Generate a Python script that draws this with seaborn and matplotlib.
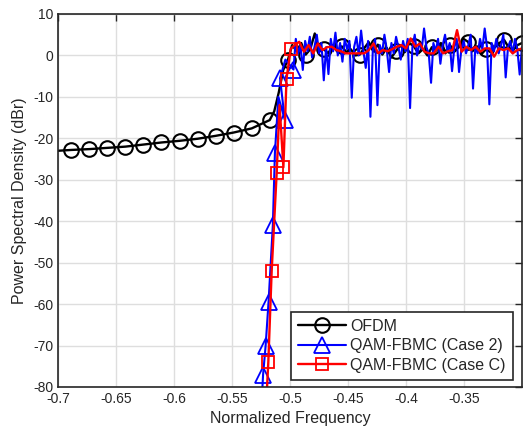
import numpy as np
import pandas as pd
import matplotlib
matplotlib.use("Agg")
import matplotlib.pyplot as plt
import seaborn as sns

# ---------------- data ----------------
# OFDM: sparse out-of-band part, then dense in-band part
ofdm_left_f = [-0.7000, -0.6885, -0.6730, -0.6574, -0.6419, -0.6263, -0.6108,
               -0.5952, -0.5797, -0.5641, -0.5486, -0.5330]
ofdm_left_p = [-23.0, -22.8, -22.6, -22.3, -22.0, -21.5, -21.0,
               -20.6, -20.1, -19.4, -18.6, -17.6]
ofdm_band_f = np.linspace(-0.5175, -0.3000, 57)
ofdm_band_p = [-15.6, -13.5, -9.0, -3.5, -1.2, 2.5, 1.0, 3.0, 0.2, 1.5,
               5.3, 1.0, 1.5, 0.5, 2.5, 1.0, 2.2, 0.8, 1.5, 0.0,
               0.2, 1.8, 3.2, 1.0, 2.6, 0.2, 1.8, -0.5, 1.0, 2.5,
               0.8, 3.0, 2.2, 0.5, 1.5, 0.0, 2.0, 1.2, 3.0, 0.5,
               2.5, 1.0, 2.0, 4.0, 3.3, 1.0, 2.2, 0.3, 1.5, 0.8,
               2.0, 3.0, 3.8, 2.0, 1.2, 2.5, 3.0]

# QAM-FBMC (Case 2)
case2_edge_f = [-0.5245, -0.5232, -0.5210, -0.5185, -0.5148, -0.5130,
                -0.5100, -0.5045, -0.5086, -0.5040, -0.4970]
case2_edge_p = [-84.0, -77.0, -70.0, -59.5, -41.0, -23.5,
                -10.0, -15.5, -5.5, -1.0, -3.4]
case2_band_f = np.linspace(-0.4950, -0.3000, 98)
case2_band_p = [4.0, 0.5, 2.5, -3.5, 3.5, 1.0, 4.5, -0.5, 2.0, 5.0,
                0.5, 3.0, -6.0, 2.0, -4.5, 4.0, 1.0, 5.5, 0.0, 3.0,
                -1.5, 4.0, 1.5, 3.5, -10.2, 2.0, 4.5, 0.0, 6.0, 1.0,
                -3.0, 3.5, -14.8, 1.0, 4.0, -12.0, 2.5, 0.5, 5.0, 1.5,
                -4.0, 3.0, 0.5, 4.5, 2.0, -1.0, 3.5, 1.0, 4.0, -12.7,
                2.0, 5.0, 0.0, 3.0, 1.5, 6.5, 2.0, 0.5, -6.6, 3.0,
                1.0, 4.0, -2.0, 2.5, 5.0, 1.0, 3.0, -3.8, 2.0, 4.0,
                -4.0, 1.5, 3.5, 0.5, 2.5, 5.0, -8.0, 2.0, 0.5, 4.0,
                1.5, 6.5, 2.0, -11.8, 3.0, 1.0, 4.0, 0.5, 2.5, 5.0,
                -5.3, 2.0, 3.5, 0.5, 4.0, 1.5, -4.6, 2.0]

# QAM-FBMC (Case C)
casec_edge_f = [-0.5205, -0.5187, -0.5158, -0.5115, -0.5090, -0.5057,
                -0.5030, -0.4994]
casec_edge_p = [-84.0, -74.0, -52.0, -28.4, -12.0, -27.0, -5.6, 1.6]
casec_band_f = np.linspace(-0.4960, -0.3000, 50)
casec_band_p = [2.5, 3.3, 0.9, 2.5, 0.5, 2.9, 1.3, 2.0, 2.1, 1.3,
                1.0, 0.5, 0.5, 0.5, 0.5, 0.5, 1.3, 2.9, 0.5, 1.3,
                1.0, 1.5, 2.1, 2.5, 1.7, 4.1, 2.1, 2.9, 0.9, 0.5,
                0.5, 2.1, 0.5, 1.0, 1.3, 6.1, 0.9, 2.1, 1.3, 2.1,
                0.9, 1.7, 1.7, -0.3, 1.7, 1.3, 1.7, 0.5, 1.3, 1.7]

labels = ["OFDM", "QAM-FBMC (Case 2)", "QAM-FBMC (Case C)"]
xtick_vals = [-0.7, -0.65, -0.6, -0.55, -0.5, -0.45, -0.4, -0.35]
xtick_labels = ["-0.7", "-0.65", "-0.6", "-0.55", "-0.5", "-0.45", "-0.4", "-0.35"]
ytick_vals = [-80, -70, -60, -50, -40, -30, -20, -10, 0, 10]
ytick_labels = ["-80", "-70", "-60", "-50", "-40", "-30", "-20", "-10", "0", "10"]

# ---------------- build frames ----------------
df_ofdm = pd.DataFrame({"f": list(ofdm_left_f) + list(ofdm_band_f),
                        "p": list(ofdm_left_p) + list(ofdm_band_p)})
df_c2 = pd.DataFrame({"f": list(case2_edge_f) + list(case2_band_f),
                      "p": list(case2_edge_p) + list(case2_band_p)})
df_cc = pd.DataFrame({"f": list(casec_edge_f) + list(casec_band_f),
                      "p": list(casec_edge_p) + list(casec_band_p)})

nl = len(ofdm_left_f)
ofdm_marks = list(range(1, nl)) + [nl + i for i in range(0, len(ofdm_band_f), 4)]
c2_marks = [1, 2, 3, 4, 5, 7, 8, 10]
cc_marks = [1, 2, 3, 5, 6, 7]

# ---------------- style ----------------
sns.set_style("white")
plt.rcParams["font.family"] = ["Liberation Sans", "DejaVu Sans"]
dark = "#262626"

fig = plt.figure(figsize=(5.23, 4.30), dpi=100)
ax = fig.add_axes([58 / 523, 1 - 387 / 430, 464 / 523, 373 / 430])

common = dict(sort=False, estimator=None, ax=ax, markerfacecolor="none")
sns.lineplot(data=df_ofdm, x="f", y="p", color="black", linewidth=1.7,
             marker="o", markersize=10.5, markeredgecolor="black",
             markeredgewidth=1.5, markevery=ofdm_marks, label=labels[0], **common)
sns.lineplot(data=df_c2, x="f", y="p", color="#0000ff", linewidth=1.5,
             marker="^", markersize=11, markeredgecolor="#0000ff",
             markeredgewidth=1.3, markevery=c2_marks, label=labels[1], **common)
sns.lineplot(data=df_cc, x="f", y="p", color="#ff0000", linewidth=1.7,
             marker="s", markersize=9, markeredgecolor="#ff0000",
             markeredgewidth=1.3, markevery=cc_marks, label=labels[2], **common)

ax.set_xlim(-0.7, -0.3)
ax.set_ylim(-80, 10)
ax.set_xticks(xtick_vals + [-0.3])
ax.set_xticklabels(xtick_labels + [""])
ax.set_yticks(ytick_vals)
ax.set_yticklabels(ytick_labels)
ax.grid(True, color="#dedede", linewidth=1.0)
ax.set_axisbelow(True)
ax.tick_params(direction="in", length=5, width=1.0, colors=dark,
               labelsize=10, top=True, right=True, labelcolor=dark)
for s in ax.spines.values():
    s.set_visible(True)
    s.set_color(dark)
    s.set_linewidth(1.2)

ax.set_xlabel("Normalized Frequency", fontsize=11.5, color=dark, labelpad=4)
ax.set_ylabel("Power Spectral Density (dBr)", fontsize=11.5, color=dark, labelpad=4)

leg = ax.legend(loc="lower right", bbox_to_anchor=(0.981, 0.019), borderaxespad=0,
                fontsize=11.5, frameon=True, fancybox=False, edgecolor=dark,
                framealpha=1, handlelength=3.0, handletextpad=0.3,
                labelspacing=0.28, borderpad=0.45)
leg.get_frame().set_linewidth(1.2)

fig.savefig("out.png", dpi=100, facecolor="white")
